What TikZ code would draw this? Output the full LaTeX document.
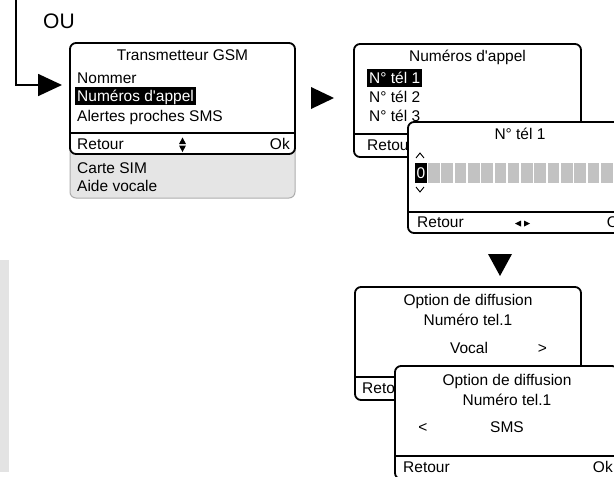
\documentclass[tikz,border=0pt]{standalone}
\usepackage{fontspec}
\setmainfont{Liberation Sans}
\usetikzlibrary{arrows.meta,positioning}

\tikzset{
  screen/.style={draw,line width=1.8pt,rounded corners=6pt,fill=white,
    inner sep=0pt,outer sep=0pt,anchor=north west},
  sepline/.style={line width=1.8pt},
  txt/.style={inner sep=0pt,font=\fontsize{15.5}{18}\selectfont},
  hilite/.style={txt,fill=black,text=white,inner xsep=2pt,inner ysep=1.5pt,
    text height=13.5pt,text depth=2pt},
  digitbox/.style={txt,fill=black,text=white,minimum width=12,minimum height=20},
  cell/.style={fill=black!24},
  pointer/.style={fill=black},
  caret/.style={line width=0.9pt},
}

\begin{document}
\begin{tikzpicture}[x=1pt,y=-1pt]
	\useasboundingbox (0,0) rectangle (614,477);
	\clip (0,0) rectangle (614,477);

	% side bar
	\fill[black!11] (0,260) rectangle (9,472);

	% first screen
	\fill[black!10,draw=black!32,line width=1pt,rounded corners=6pt] (70,140) rectangle (295,198);
	\node[screen,minimum width=225,minimum height=111] (gsm) at (70,43) {};
	\draw[sepline] (gsm.west |- 0,133) -- (gsm.east |- 0,133);
	\node[txt,anchor=base] (gsmtitle) at (182.5,60) {Transmetteur GSM};
	\node[txt,anchor=base west] (gsmname) at (77,83) {Nommer};
	\node[hilite,anchor=base west] (gsmnum) at (75,101.5) {Numéros d\textquotesingle appel\hspace{7pt}};
	\node[txt,anchor=base west] (gsmalert) at (77,121.5) {Alertes proches SMS};
	\node[txt,anchor=base west] (gsmback) at (77,149) {Retour};
	\node[txt,anchor=base east] (gsmok) at (290,149) {Ok};
	\node[txt,anchor=base west] (gsmsim) at (77,173) {Carte SIM};
	\node[txt,anchor=base west] (gsmvoice) at (77,191) {Aide vocale};
	\fill (179,144) -- (186,144) -- (182.5,137.5) -- cycle;
	\fill (179,145.5) -- (186,145.5) -- (182.5,152) -- cycle;

	% entry line
	\node[txt,anchor=base west] (ou) at (43,28) {\fontsize{21}{24}\selectfont OU};
	\coordinate (start) at (16,0);
	\coordinate (entry) at ([xshift=-8pt]gsm.west |- 0,85);
	\draw[line width=1.8pt,-{Triangle[length=24pt,width=22pt]}] (start) |- (entry);

	% step arrows
	\fill[pointer] (311,87) -- (311,109) -- (334,98) -- cycle;
	\fill[pointer] (488,254) -- (512,254) -- (500,276) -- cycle;

	% number list
	\node[screen,minimum width=227,minimum height=113] (appel) at (354,44) {};
	\draw[sepline] (appel.west |- 0,134) -- (appel.east |- 0,134);
	\node[txt,anchor=base] (appeltitle) at (467.5,61) {Numéros d\textquotesingle appel};
	\node[hilite,anchor=base west] (tel1) at (367,83.5) {N° tél 1\hspace{5pt}};
	\node[txt,anchor=base west] (tel2) at (369,102.5) {N° tél 2};
	\node[txt,anchor=base west] (tel3) at (369,121) {N° tél 3};
	\node[txt,anchor=base west] (appelback) at (367,150) {Retour};

	% number entry
	\node[screen,minimum width=224,minimum height=111] (tel) at (408,122) {};
	\draw[sepline] (tel.west |- 0,212) -- (tel.east |- 0,212);
	\node[txt,anchor=base] (teltitle) at (520,139) {N° tél 1};
	\draw[caret] (416,158) -- (420,153) -- (424,158);
	\node[digitbox] (digit) at (421,173) {0};
	\foreach \i in {0,...,13}
		\fill[cell] (428+\i*13.3,163) rectangle ++(11.6,20);
	\draw[caret] (416,187) -- (420,192) -- (424,187);
	\node[txt,anchor=base west] (telback) at (417,227) {Retour};
	\node[txt,anchor=base east] (telok) at (627,227) {Ok};
	\fill (515,223.5) -- (521,220.5) -- (521,226.5) -- cycle;
	\fill (530,223.5) -- (524,220.5) -- (524,226.5) -- cycle;

	% broadcast option, vocal
	\node[screen,minimum width=226,minimum height=113] (vocal) at (355,287) {};
	\draw[sepline] (vocal.west |- 0,377) -- (vocal.east |- 0,377);
	\node[txt,anchor=base] (vocaltitle) at (468,305) {Option de diffusion};
	\node[txt,anchor=base] (vocalnum) at (468,325) {Numéro tel.1};
	\node[txt,anchor=base] (vocalmode) at (469,353) {Vocal};
	\node[txt,anchor=base] (vocalnext) at (542.5,353) {>};
	\node[txt,anchor=base west] (vocalback) at (362,393) {Retour};

	% broadcast option, sms
	\node[screen,minimum width=223,minimum height=113] (sms) at (395,366) {};
	\draw[sepline] (sms.west |- 0,456) -- (sms.east |- 0,456);
	\node[txt,anchor=base] (smstitle) at (507,385) {Option de diffusion};
	\node[txt,anchor=base] (smsnum) at (507,405) {Numéro tel.1};
	\node[txt,anchor=base] (smsprev) at (423,432) {<};
	\node[txt,anchor=base] (smsmode) at (507,432) {SMS};
	\node[txt,anchor=base west] (smsback) at (403,472) {Retour};
	\node[txt,anchor=base east] (smsok) at (613,472) {Ok};
\end{tikzpicture}
\end{document}
